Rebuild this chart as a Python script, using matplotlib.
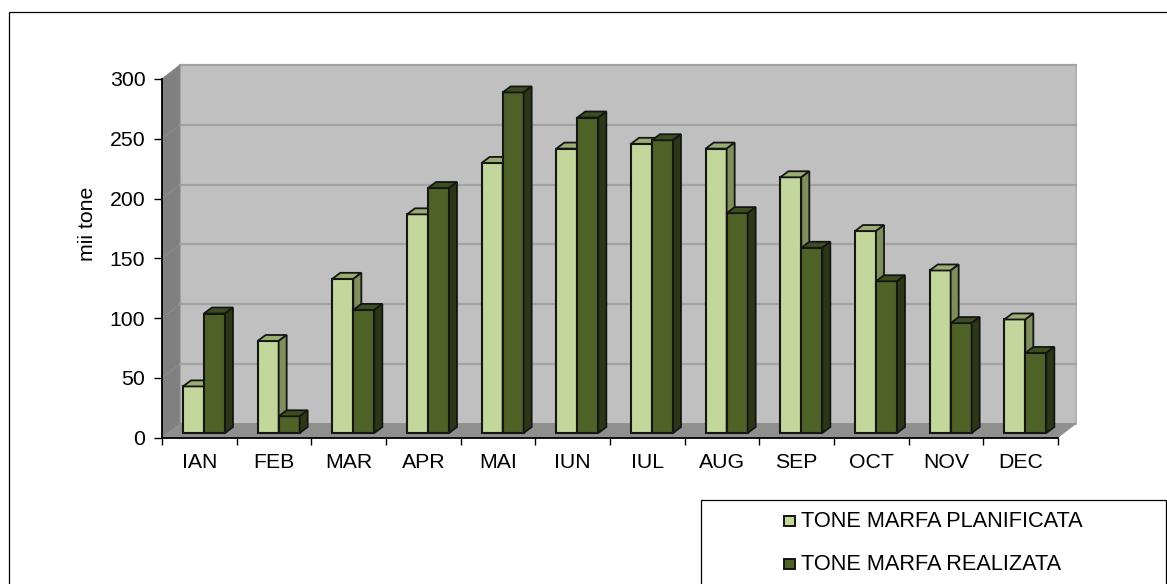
import matplotlib
matplotlib.use("Agg")
import matplotlib.pyplot as plt
from matplotlib.patches import Polygon, Rectangle

meses = ["IAN", "FEB", "MAR", "APR", "MAI", "IUN", "IUL", "AUG", "SEP", "OCT", "NOV", "DEC"]
planificata = [39, 77, 129, 183, 226, 238, 242, 238, 214, 169, 136, 95]
realizata = [100, 14, 103, 205, 285, 264, 245, 184, 155, 127, 92, 67]
yticks = [0, 50, 100, 150, 200, 250, 300]

plt.rcParams['font.family'] = ['Liberation Sans', 'DejaVu Sans']

W, H = 1167, 584
fig = plt.figure(figsize=(W / 100, H / 100), dpi=100)
fig.patch.set_facecolor("white")

# axes in pixel position
x0, x1, ytop, ybot = 162, 1058, 79, 437.5
ax = fig.add_axes([x0 / W, 1 - ybot / H, (x1 - x0) / W, (ybot - ytop) / H])
ax.set_xlim(0, 12)
ax.set_ylim(0, 300)
ax.patch.set_alpha(0)

# pixel -> data
px = 12 / (x1 - x0)
py = 300 / (ybot - ytop)

# 3d offsets
wall_dx, wall_dy = 18 * px, 14 * py
base_dy = 4.5 * py
dep_dx, dep_dy = 8 * px, 6 * py
bar_w = 21 * px
bar_start = 21 * px

# walls
ax.add_patch(Polygon([(wall_dx, wall_dy), (12 + wall_dx, wall_dy), (12 + wall_dx, 300 + wall_dy), (wall_dx, 300 + wall_dy)],
                     fc="#c0c0c0", ec="#b0b0b0", lw=1.4, clip_on=False, zorder=1))
ax.add_patch(Polygon([(0, 0), (wall_dx, wall_dy), (wall_dx, 300 + wall_dy), (0, 300)],
                     fc="#808080", ec="#8c8c8c", lw=0.6, clip_on=False, zorder=1))
ax.add_patch(Polygon([(0, 0), (12, 0), (12 + wall_dx, wall_dy), (wall_dx, wall_dy)],
                     fc="#8f8f8f", ec="#8f8f8f", lw=0.6, clip_on=False, zorder=1))
for t in yticks[1:]:
    ax.plot([wall_dx, 12 + wall_dx], [t + wall_dy] * 2, color="#a2a2a2", lw=1.6, clip_on=False, zorder=1.5)
    ax.plot([0, wall_dx], [t, t + wall_dy], color="#8c8c8c", lw=0.7, clip_on=False, zorder=1.5)

def bars(vals, offset, front, top, side, z):
    xs = [i + bar_start + offset + bar_w / 2 for i in range(12)]
    ax.bar(xs, vals, bar_w, bottom=base_dy, color=front, edgecolor="#151515", lw=1.5, zorder=z, clip_on=False)
    for x, v in zip(xs, vals):
        l, r, t = x - bar_w / 2, x + bar_w / 2, v + base_dy
        ax.add_patch(Polygon([(l, t), (r, t), (r + dep_dx, t + dep_dy), (l + dep_dx, t + dep_dy)],
                             fc=top, ec="#151515", lw=1.3, clip_on=False, zorder=z))
        ax.add_patch(Polygon([(r, base_dy), (r + dep_dx, base_dy + dep_dy), (r + dep_dx, t + dep_dy), (r, t)],
                             fc=side, ec="#151515", lw=1.3, clip_on=False, zorder=z))

bars(planificata, 0, "#c3d69b", "#9bad73", "#7f8f5c", 3)
bars(realizata, bar_w, "#4f6228", "#3e4d1f", "#2c3716", 4)

ax.set_yticks(yticks)
ax.set_xticks(range(13))
ax.set_xticklabels([])
ax.set_xticks([i + 0.5 for i in range(12)], minor=True)
ax.set_xticklabels(meses, minor=True, fontsize=15.3)
ax.tick_params(axis="x", which="minor", length=0, pad=11)
ax.tick_params(axis="x", which="major", length=5, width=1, direction="out")
ax.tick_params(axis="y", length=6, width=1, labelsize=15.3, pad=6)
ax.set_ylabel("mii tone", fontsize=15.3)
ax.yaxis.set_label_coords(-0.072, 0.595)
for s in ["top", "right"]:
    ax.spines[s].set_visible(False)
for s in ["left", "bottom"]:
    ax.spines[s].set_linewidth(1.3)
    ax.spines[s].set_zorder(5)

# frame and legend box, figure pixels
bg = fig.add_axes([0, 0, 1, 1], zorder=10)
bg.set_xlim(0, W)
bg.set_ylim(H, 0)
bg.axis("off")
bg.patch.set_alpha(0)
bg.plot([8.5, 8.5, 1167], [584, 11.5, 11.5], color="black", lw=0.9)
bg.add_patch(Rectangle((701, 499.5), 465, 90, fc="white", ec="black", lw=0.9, clip_on=True))
bg.add_patch(Rectangle((784, 516), 11, 10, fc="#c3d69b", ec="#151515", lw=1.4))
bg.add_patch(Rectangle((784, 559), 11, 10, fc="#4f6228", ec="#151515", lw=1.4))
bg.text(801, 521.5, "TONE MARFA PLANIFICATA", fontsize=15.65, va="center", ha="left")
bg.text(801, 564.5, "TONE MARFA REALIZATA", fontsize=15.65, va="center", ha="left")

fig.savefig("out.png", dpi=100)
